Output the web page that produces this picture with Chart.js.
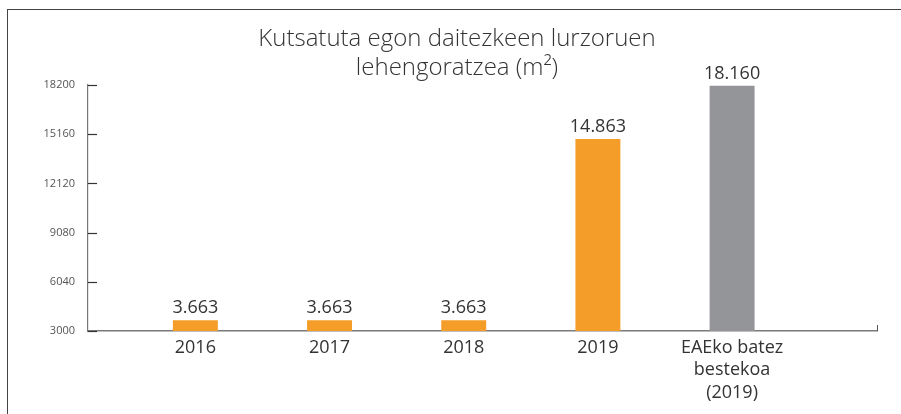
<!DOCTYPE html>
<html>
<head>
<meta charset="utf-8">
<script src="https://cdn.jsdelivr.net/npm/chart.js@4.4.1/dist/chart.umd.min.js"></script>
<style>
  body { margin: 0; background: #fff; }
  #wrap { position: absolute; left: 0; top: 0; width: 901px; height: 414px; }
  #frame { position: absolute; left: 7px; top: 9px; right: 0; bottom: 0; border-left: 1px solid #444; border-top: 1px solid #444; pointer-events: none; }
</style>
</head>
<body>
<div id="wrap"><canvas id="chart"></canvas></div>
<div id="frame"></div>
<script>
const categories = ['2016', '2017', '2018', '2019', ['EAEko batez', 'bestekoa', '(2019)']];
const values = [3663, 3663, 3663, 14863, 18160];
const barColors = ['#F59D29', '#F59D29', '#F59D29', '#F59D29', '#939598'];
const yTicks = [3000, 6040, 9080, 12120, 15160, 18200];
const titleLines = ['Kutsatuta egon daitezkeen lurzoruen', 'lehengoratzea (m²)'];

const FONT = '"Open Sans", Lato, sans-serif';

// thousands with a dot, like 18.160
function fmt(v) {
  return String(v).replace(/\B(?=(\d{3})+(?!\d))/g, '.');
}

// title, value labels over the bars, inward tick marks on the y axis
const extras = {
  id: 'extras',
  afterDatasetsDraw(chart) {
    const ctx = chart.ctx;
    const meta = chart.getDatasetMeta(0);
    ctx.save();

    ctx.font = '300 24px ' + FONT;
    ctx.fillStyle = '#333';
    ctx.textAlign = 'center';
    ctx.textBaseline = 'middle';
    titleLines.forEach((t, i) => ctx.fillText(t, 457, 39 + i * 29));

    ctx.font = '18px ' + FONT;
    ctx.textBaseline = 'bottom';
    meta.data.forEach((bar, i) => {
      ctx.fillText(fmt(values[i]), bar.x, bar.y - 3);
    });

    const y = chart.scales.y;
    const area = chart.chartArea;
    ctx.strokeStyle = '#333';
    ctx.lineWidth = 1.2;
    yTicks.forEach(t => {
      const py = Math.round(y.getPixelForValue(t)) + 0.5;
      ctx.beginPath();
      ctx.moveTo(area.left, py);
      ctx.lineTo(area.left + 9, py);
      ctx.stroke();
    });
    // small end mark on the x axis
    ctx.strokeStyle = '#555';
    ctx.lineWidth = 1;
    ctx.beginPath();
    ctx.moveTo(area.right + 0.5, area.bottom);
    ctx.lineTo(area.right + 0.5, area.bottom - 6);
    ctx.stroke();
    ctx.restore();
  }
};

new Chart(document.getElementById('chart'), {
  type: 'bar',
  data: {
    datasets: [{
      data: values.map((v, i) => ({ x: i, y: v })),
      backgroundColor: barColors,
      borderWidth: 0,
      categoryPercentage: 1,
      barPercentage: 0.335
    }]
  },
  options: {
    responsive: true,
    maintainAspectRatio: false,
    animation: false,
    layout: { padding: { left: 0, right: 24, top: 85, bottom: 0 } },
    plugins: {
      legend: { display: false },
      tooltip: { enabled: false },
      title: { display: false }
    },
    scales: {
      x: {
        type: 'linear',
        offset: false,
        min: -0.8,
        max: 5.08,
        grid: { display: false, drawTicks: false, offset: false },
        border: { display: true, color: '#7a7a7a', width: 1.5 },
        afterBuildTicks: s => { s.ticks = categories.map((c, i) => ({ value: i })); },
        afterFit: s => { s.height = 83; },
        ticks: {
          color: '#333',
          padding: 5,
          font: { family: FONT, size: 18, lineHeight: 1.27 },
          callback: v => categories[v]
        }
      },
      y: {
        min: 3000,
        max: 18200,
        grid: { display: false, drawTicks: false },
        border: { display: true, color: '#777', width: 1.2 },
        afterBuildTicks: s => { s.ticks = yTicks.map(v => ({ value: v })); },
        afterFit: s => { s.width = 88; },
        ticks: {
          color: '#555',
          padding: 13,
          font: { family: '"Open Sans", sans-serif', size: 11 },
          callback: v => String(v)
        }
      }
    }
  },
  plugins: [extras]
});
</script>
</body>
</html>
